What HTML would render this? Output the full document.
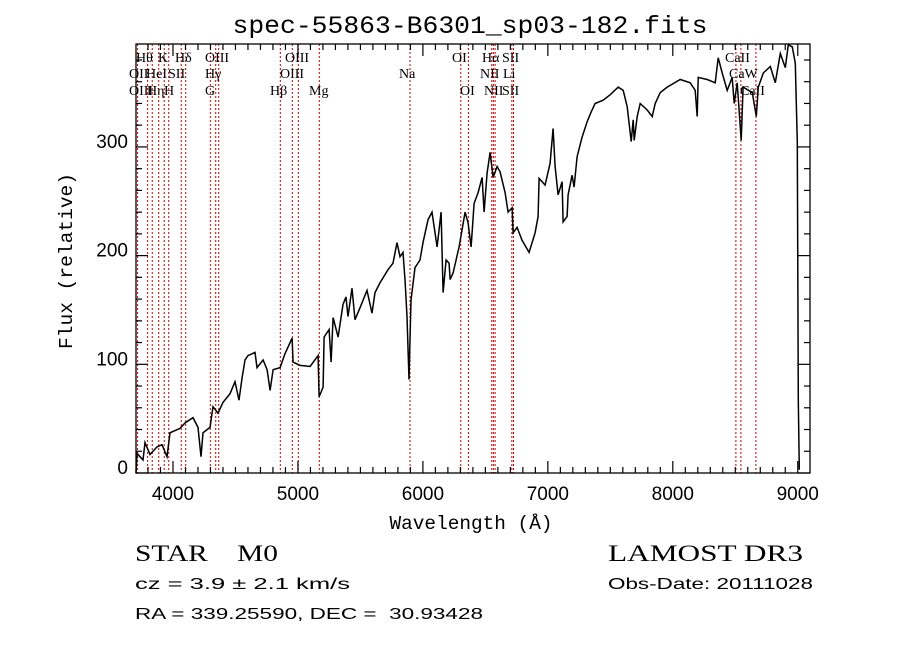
<!DOCTYPE html>
<html><head><meta charset="utf-8"><style>
body{margin:0;background:#fff;width:900px;height:649px;overflow:hidden}
svg{display:block}
text{white-space:pre}
</style></head><body>
<svg id="chart" width="900" height="649" viewBox="0 0 900 649" xmlns="http://www.w3.org/2000/svg">
<rect x="0" y="0" width="900" height="649" fill="#fff"/>
<text x="470" y="33" text-anchor="middle" font-family="Liberation Mono, monospace" font-size="25" textLength="475" lengthAdjust="spacingAndGlyphs">spec-55863-B6301_sp03-182.fits</text>
<g id="lines"></g>
<g id="labels" font-family="Liberation Serif, serif" font-size="14"></g>
<g id="spec"></g>
<g id="axes"></g>
<text x="471" y="529" text-anchor="middle" font-family="Liberation Mono, monospace" font-size="19" textLength="163" lengthAdjust="spacingAndGlyphs">Wavelength (Å)</text>
<text transform="translate(72,261) rotate(-90)" text-anchor="middle" font-family="Liberation Mono, monospace" font-size="19" textLength="176" lengthAdjust="spacingAndGlyphs">Flux (relative)</text>
<text x="135" y="561" font-family="Liberation Serif, serif" font-size="23" xml:space="preserve" textLength="143" lengthAdjust="spacingAndGlyphs">STAR    M0</text>
<text x="135" y="589" font-family="Liberation Sans, sans-serif" font-size="16" textLength="215" lengthAdjust="spacingAndGlyphs">cz = 3.9 ± 2.1 km/s</text>
<text x="135" y="619" font-family="Liberation Sans, sans-serif" font-size="16" xml:space="preserve" textLength="348" lengthAdjust="spacingAndGlyphs">RA = 339.25590, DEC =  30.93428</text>
<text x="608" y="561" font-family="Liberation Serif, serif" font-size="23" textLength="195" lengthAdjust="spacingAndGlyphs">LAMOST DR3</text>
<text x="608" y="589" font-family="Liberation Sans, sans-serif" font-size="16" textLength="205" lengthAdjust="spacingAndGlyphs">Obs-Date: 20111028</text>
</svg>
<script>
const wavelengths=[3704,3712,3760,3776,3816,3872,3912,3952,3976,4056,4096,4160,4200,4224,4240,4296,4320,4360,4400,4456,4496,4528,4552,4576,4600,4656,4672,4721,4753,4777,4801,4857,4897,4953,4961,5017,5097,5161,5169,5201,5209,5249,5265,5281,5321,5361,5385,5401,5433,5457,5497,5553,5593,5617,5657,5721,5761,5793,5817,5841,5857,5873,5889,5905,5937,5977,6001,6041,6073,6114,6146,6162,6186,6210,6218,6242,6290,6338,6362,6386,6410,6442,6474,6490,6514,6538,6562,6594,6618,6658,6682,6714,6722,6754,6794,6850,6898,6922,6930,6978,7018,7042,7058,7082,7114,7122,7154,7162,7194,7210,7234,7274,7314,7346,7378,7442,7498,7563,7603,7635,7667,7683,7691,7715,7739,7795,7835,7859,7899,7955,8059,8139,8179,8195,8203,8275,8339,8363,8395,8435,8475,8491,8515,8547,8563,8636,8668,8684,8724,8780,8820,8860,8900,8924,8956,8980,8996,9004,9012];
const fluxes=[0,18,12,28,17,24,26,15,37,41,46,51,42,15,37,42,61,55,65,73,84,67,87,104,108,111,97,104,95,76,95,97,110,124,102,99,98,108,70,79,125,132,102,143,125,155,162,144,170,141,152,168,147,166,175,187,193,212,199,203,178,144,86,159,189,196,212,233,240,208,240,166,196,193,178,184,208,240,230,208,248,258,272,240,276,295,272,282,277,258,240,244,221,226,214,203,221,236,271,265,285,317,282,256,268,231,236,256,274,263,291,309,323,332,340,343,348,355,352,337,305,325,306,328,340,334,328,340,350,355,362,359,352,328,364,362,359,382,368,352,364,340,359,306,355,350,328,355,368,374,359,386,373,394,392,377,304,67,3];
const lineWaves=[3717,3797,3834,3886,3930,3966,4066,4102,4299,4342,4366,4859,4955,5003,5171,5897,6303,6364,6551,6564,6578,6712,6725,8505,8545,8665];
const lineLabels=[["Hθ",136,62],["K",158,62],["Hδ",175,62],["OIII",205,62],["OIII",285,62],["OI",452,62],["Hα",482,62],["SII",502,62],["CaII",725,62],
["OII",129,78],["HeI",146,78],["SII",168,78],["Hγ",205,78],["OIII",280,78],["Na",399,78],["NII",480,78],["Li",503,78],["CaW",729,78],
["OIII",129,95],["Hη",147,95],["H",164,95],["G",205,95],["Hβ",270,95],["Mg",309,95],["OI",460,95],["NII",484,95],["SII",502,95],["CaII",740,95]];
const xTicks=[4000,5000,6000,7000,8000,9000];
const yTicks=[0,100,200,300];
const L=136,R=810,T=44,B=473;
const X0=3704,X1=9098,Y0=0,Y1=394.7;
function sx(w){return L+(w-X0)/(X1-X0)*(R-L);}
function sy(v){return B-(v-Y0)/(Y1-Y0)*(B-T);}
const NS="http://www.w3.org/2000/svg";
function mk(tag,attrs,parent){const e=document.createElementNS(NS,tag);for(const k in attrs)e.setAttribute(k,attrs[k]);parent.appendChild(e);return e;}
const gl=document.getElementById('lines');
lineWaves.forEach(w=>{const l=mk('line',{x1:sx(w),x2:sx(w),y1:T,y2:B,stroke:'#c00000','stroke-width':1,'stroke-dasharray':'2,2'},gl);

});
const glab=document.getElementById('labels');
lineLabels.forEach(a=>{const t=mk('text',{x:a[1],y:a[2]},glab);t.textContent=a[0];

});
const gs=document.getElementById('spec');
const pts=wavelengths.map((w,i)=>sx(w).toFixed(1)+','+sy(fluxes[i]).toFixed(1)).join(' ');
const pl=mk('polyline',{points:pts,fill:'none',stroke:'#000','stroke-width':1.5,'stroke-linejoin':'miter'},gs);


const ga=document.getElementById('axes');
const frame=mk('rect',{x:L,y:T,width:R-L,height:B-T,fill:'none',stroke:'#000','stroke-width':1.3},ga);


for(let w=3800;w<=9000;w+=100){const maj=w%1000===0;const len=maj?12:6;const x=sx(w);
mk('line',{x1:x,x2:x,y1:B,y2:B-len,stroke:'#000','stroke-width':1.2},ga);
mk('line',{x1:x,x2:x,y1:T,y2:T+len,stroke:'#000','stroke-width':1.2},ga);}
xTicks.forEach(w=>{const t=mk('text',{x:sx(w),y:B+27,'text-anchor':'middle','font-family':'Liberation Sans, sans-serif','font-size':19},ga);t.textContent=w;

});
for(let v=0;v<=380;v+=20){const maj=v%100===0;const len=maj?12:6;const y=sy(v);
mk('line',{x1:L,x2:L+len,y1:y,y2:y,stroke:'#000','stroke-width':1.2},ga);
mk('line',{x1:R,x2:R-len,y1:y,y2:y,stroke:'#000','stroke-width':1.2},ga);}
yTicks.forEach(v=>{const t=mk('text',{x:L-8,y:sy(v)+1,'text-anchor':'end','font-family':'Liberation Sans, sans-serif','font-size':19},ga);t.textContent=v;

});
</script>
</body></html>
